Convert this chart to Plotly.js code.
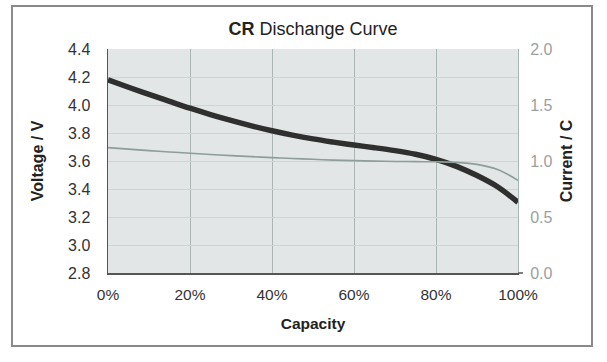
<!DOCTYPE html>
<html>
<head>
<meta charset="utf-8">
<script src="https://cdn.plot.ly/plotly-3.0.1.min.js"></script>
<style>
  html, body { margin: 0; padding: 0; background: #ffffff; }
  #chart { width: 607px; height: 362px; }
</style>
</head>
<body>
<div id="chart"></div>
<script>
// Capacity (% of full discharge)
const capacity = [0, 5, 10, 15, 20, 25, 30, 35, 40, 45, 50, 55, 60, 65, 70, 75, 80, 85, 90, 95, 100];
// Voltage (V) - left axis, thick dark curve
const voltage = [4.18, 4.127, 4.076, 4.026, 3.977, 3.932, 3.89, 3.851, 3.816, 3.785, 3.758, 3.735, 3.714, 3.695, 3.674, 3.648, 3.612, 3.562, 3.496, 3.416, 3.305];
// Current (C) - right axis, thin grey curve
const current = [1.119, 1.106, 1.093, 1.081, 1.069, 1.058, 1.048, 1.039, 1.03, 1.022, 1.015, 1.008, 1.003, 0.999, 0.996, 0.994, 0.993, 0.988, 0.97, 0.925, 0.827];

const xTickVals = [0, 20, 40, 60, 80, 100];
const xTickText = ['0%', '20%', '40%', '60%', '80%', '100%'];
const yTickVals = [2.8, 3.0, 3.2, 3.4, 3.6, 3.8, 4.0, 4.2, 4.4];
const y2TickVals = [0.0, 0.5, 1.0, 1.5, 2.0];

const FONT = 'Liberation Sans, Arial, Helvetica, sans-serif';

const traces = [
  {
    x: capacity, y: current, yaxis: 'y2', type: 'scatter', mode: 'lines',
    line: { color: '#8d9d99', width: 1.6, shape: 'spline', smoothing: 1 },
    hoverinfo: 'skip', showlegend: false
  },
  {
    x: capacity, y: voltage, type: 'scatter', mode: 'lines',
    line: { color: '#2f2f2f', width: 5.5, shape: 'spline', smoothing: 1 },
    hoverinfo: 'skip', showlegend: false
  }
];

const layout = {
  width: 607, height: 362,
  margin: { l: 108, r: 89, t: 49, b: 89 },
  paper_bgcolor: '#ffffff',
  plot_bgcolor: '#e2e6e7',
  font: { family: FONT, color: '#333333' },
  title: {
    text: '<b>CR</b> Dischange Curve',
    font: { family: FONT, size: 18, color: '#222222' },
    x: 0.5, xref: 'paper', xanchor: 'center',
    y: 1 - 29 / 362, yref: 'container', yanchor: 'middle'
  },
  xaxis: {
    range: [0, 100],
    tickvals: xTickVals, ticktext: xTickText,
    tickfont: { size: 15.5, color: '#333333' },
    ticks: '', ticklabelstandoff: 7,
    showgrid: true, gridcolor: '#a9b6b3', gridwidth: 1,
    showline: true, linecolor: '#555555', linewidth: 1.5,
    zeroline: false,
    title: { text: '<b>Capacity</b>', font: { size: 15.5, color: '#222222' }, standoff: 16 },
    fixedrange: true
  },
  yaxis: {
    range: [2.8, 4.4],
    tickvals: yTickVals, tickformat: '.1f',
    tickfont: { size: 16, color: '#333333' },
    ticks: '', ticklabelstandoff: 13,
    showgrid: true, gridcolor: '#cdd4d5', gridwidth: 1,
    showline: true, linecolor: '#555555', linewidth: 1.5,
    zeroline: false,
    title: { text: '<b>Voltage / V</b>', font: { size: 16, color: '#222222' }, standoff: 20 },
    fixedrange: true
  },
  yaxis2: {
    range: [0, 2.0], overlaying: 'y', side: 'right',
    tickvals: y2TickVals, tickformat: '.1f',
    tickfont: { size: 16, color: '#9a9fa0' },
    ticks: '', ticklabelstandoff: 8,
    showgrid: false,
    showline: true, linecolor: '#aab6b4', linewidth: 1,
    zeroline: false,
    title: { text: '<b>Current / C</b>', font: { size: 16, color: '#222222' }, standoff: 9 },
    fixedrange: true
  },
  shapes: [
    {
      type: 'rect', xref: 'paper', yref: 'paper',
      x0: (12 - 108) / 410, x1: (592 - 108) / 410,
      y0: (273 - 346) / 224, y1: (273 - 6) / 224,
      line: { color: '#8a8a8a', width: 2 }, fillcolor: 'rgba(0,0,0,0)', layer: 'below'
    },
    {
      type: 'line', xref: 'paper', yref: 'paper',
      x0: 1, x1: (523 - 108) / 410, y0: 0, y1: 0,
      line: { color: '#555555', width: 1.5 }
    }
  ]
};

Plotly.newPlot('chart', traces, layout, { staticPlot: true, displayModeBar: false });
</script>
</body>
</html>
